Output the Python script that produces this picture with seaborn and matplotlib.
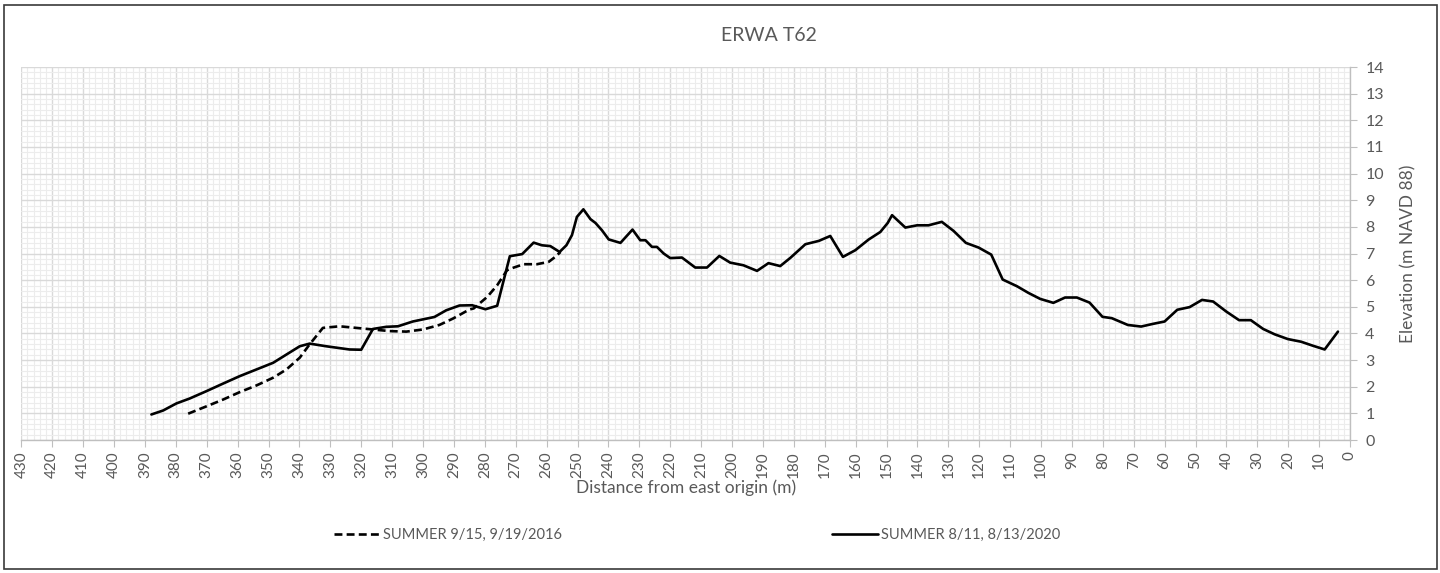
import matplotlib
matplotlib.use("Agg")
import matplotlib.pyplot as plt
from matplotlib.patches import Rectangle
from matplotlib.ticker import MultipleLocator
import pandas as pd
import seaborn as sns

# Beach profile ERWA T62: distance from east origin (m) and elevation (m NAVD 88)
dist_2016 = [376, 370, 364.7, 359.3, 353.9, 348.5, 344.2, 339.9, 336.7, 332.4,
             327, 321.6, 316.2, 310.8, 305.4, 300, 294.7, 290.3, 285, 283.6,
             279.2, 276, 272.8, 270.6, 267.4, 263.1, 259.3, 257.2, 255.5]
elev_2016 = [0.99, 1.27, 1.52, 1.8, 2.05, 2.34, 2.65, 3.09, 3.59, 4.21,
             4.27, 4.21, 4.15, 4.09, 4.07, 4.15, 4.32, 4.56, 4.9, 4.94,
             5.375, 5.81, 6.375, 6.475, 6.6, 6.6, 6.69, 6.875, 7.06]

dist_2020 = [387.9, 384.1, 379.8, 375.5, 370, 364.7, 359.3, 353.9, 348.5, 344.2,
             339.9, 336.7, 331.3, 323.8, 320, 316.2, 311.9, 308.1, 303.3, 296.3,
             292.5, 288.2, 284.1, 279.8, 276, 271.9, 267.9, 264.2, 261.5, 258.8,
             255.8, 253.6, 251.8, 250.2, 248.1, 245.8, 244.2, 242.1, 239.9, 236.1,
             232.2, 229.7, 228, 225.9, 224.3, 222.1, 220, 216.2, 211.9, 208.1,
             204.1, 200.6, 196.3, 191.9, 188.2, 184.4, 181.1, 176.25, 171.9, 168.2,
             164.1, 160.1, 155.8, 152, 149.6, 148.2, 143.9, 140.1, 136.4, 132.1,
             128.3, 124.3, 120.2, 116.1, 112.4, 107.8, 104.1, 100.3, 96, 92.2,
             88.4, 84.3, 80.1, 77.1, 71.9, 67.6, 63.8, 60, 55.9, 51.9,
             47.9, 44.3, 40, 35.9, 32.1, 28.1, 24.4, 20.1, 15.8, 12,
             8.2, 3.9]
elev_2020 = [0.96, 1.11, 1.375, 1.56, 1.84, 2.12, 2.4, 2.65, 2.9, 3.21,
             3.52, 3.62, 3.52, 3.4, 3.39, 4.17, 4.25, 4.27, 4.45, 4.62,
             4.87, 5.05, 5.06, 4.91, 5.04, 6.9, 6.98, 7.41, 7.31, 7.28,
             7.06, 7.31, 7.69, 8.375, 8.66, 8.29, 8.15, 7.875, 7.53, 7.4,
             7.9, 7.5, 7.5, 7.25, 7.25, 7.0, 6.83, 6.85, 6.475, 6.475,
             6.91, 6.66, 6.56, 6.35, 6.64, 6.53, 6.84, 7.35, 7.475, 7.66,
             6.875, 7.125, 7.525, 7.81, 8.15, 8.44, 7.975, 8.06, 8.06, 8.19,
             7.85, 7.4, 7.225, 6.96, 6.025, 5.775, 5.525, 5.3, 5.15, 5.35,
             5.35, 5.16, 4.625, 4.575, 4.32, 4.26, 4.36, 4.45, 4.89, 4.99,
             5.26, 5.2, 4.82, 4.5, 4.5, 4.17, 3.97, 3.79, 3.69, 3.54,
             3.4, 4.07]

label_2016 = "SUMMER 9/15, 9/19/2016"
label_2020 = "SUMMER 8/11, 8/13/2020"
title = "ERWA T62"
xlabel = "Distance from east origin (m)"
ylabel = "Elevation (m NAVD 88)"

sns.set_style("white")
plt.rcParams["font.family"] = ["Lato", "DejaVu Sans"]

text_grey = "#595959"
major_grid = "#d9d9d9"
minor_grid = "#ececec"

fig = plt.figure(figsize=(14.4, 5.73), dpi=100)
ax = fig.add_axes([0.0148, 0.232, 0.9227, 0.651])

df16 = pd.DataFrame({"dist": dist_2016, "elev": elev_2016})
df20 = pd.DataFrame({"dist": dist_2020, "elev": elev_2020})

sns.lineplot(data=df16, x="dist", y="elev", ax=ax, sort=False, estimator=None,
             color="black", linewidth=1.9, linestyle=(0, (3, 1.6)), label=label_2016,
             zorder=3)
sns.lineplot(data=df20, x="dist", y="elev", ax=ax, sort=False, estimator=None,
             color="black", linewidth=1.9, label=label_2020, zorder=4)

ax.set_xlim(430, 0)
ax.set_ylim(0, 14)
ax.xaxis.set_major_locator(MultipleLocator(10))
ax.xaxis.set_minor_locator(MultipleLocator(2))
ax.yaxis.set_major_locator(MultipleLocator(1))
ax.yaxis.set_minor_locator(MultipleLocator(0.2))

ax.grid(which="minor", color=minor_grid, linewidth=0.8, zorder=0)
ax.grid(which="major", color=major_grid, linewidth=1.0, zorder=1)
ax.set_axisbelow(True)

for side in ("top", "left"):
    ax.spines[side].set_visible(False)
for side in ("bottom", "right"):
    ax.spines[side].set_color("#bfbfbf")
    ax.spines[side].set_linewidth(1.0)

ax.yaxis.tick_right()
ax.yaxis.set_label_position("right")
ax.tick_params(axis="x", which="major", direction="out", length=5, color="#bfbfbf",
               labelrotation=90, labelsize=11, labelcolor=text_grey, pad=3, bottom=True)
ax.tick_params(axis="y", which="major", direction="out", length=5, color="#bfbfbf",
               labelsize=11.5, labelcolor=text_grey, pad=6, right=True, left=False)
ax.tick_params(which="minor", length=0)
ax.set_xticks(range(0, 431, 10))
ax.set_xticklabels([str(v) for v in range(0, 431, 10)])

ax.set_xlabel(xlabel, fontsize=12.5, color=text_grey, labelpad=1)
ax.set_ylabel(ylabel, fontsize=12.5, color=text_grey, labelpad=12, rotation=90)

fig.text(0.534, 0.938, title, ha="center", va="center", fontsize=14, color=text_grey)

ax.get_legend().remove()
handles, labels = ax.get_legend_handles_labels()
leg = fig.legend(handles, labels, loc="center", bbox_to_anchor=(0.484, 0.066), ncol=2,
                 frameon=False, fontsize=10.5, handlelength=3.2, handletextpad=0.15,
                 columnspacing=18.5)
for t in leg.get_texts():
    t.set_color(text_grey)

fig.patches.append(Rectangle((0.0031, 0.007), 0.9948, 0.985, transform=fig.transFigure,
                             fill=False, edgecolor="#3a3a3a", linewidth=1.2))

fig.savefig("out.png", dpi=100)
